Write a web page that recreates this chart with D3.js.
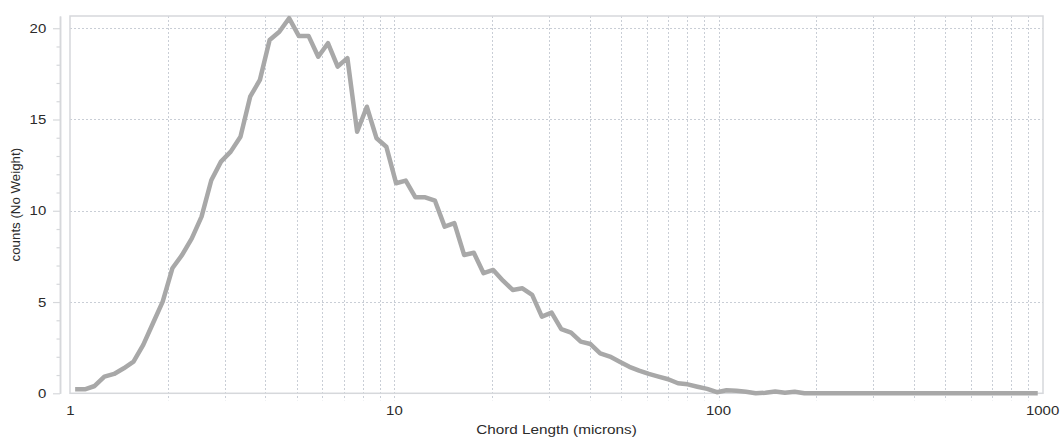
<!DOCTYPE html>
<html>
<head>
<meta charset="utf-8">
<script src="https://cdn.jsdelivr.net/npm/d3@7"></script>
<style>
  html, body { margin: 0; padding: 0; background: #ffffff; }
  svg { display: block; }
  text { font-family: "Liberation Sans", Arial, sans-serif; fill: #2b2b2b; }
</style>
</head>
<body>
<svg id="chart" width="1060" height="438"></svg>
<script>
// Chord length bin centres (microns), log-spaced from 1 to 1000
const chordLength = [
  1.035, 1.109, 1.189, 1.274, 1.365, 1.462, 1.567, 1.679, 1.799, 1.928,
  2.065, 2.213, 2.371, 2.541, 2.723, 2.917, 3.126, 3.350, 3.589, 3.846,
  4.121, 4.416, 4.732, 5.070, 5.433, 5.821, 6.237, 6.683, 7.161, 7.674,
  8.222, 8.810, 9.441, 10.12, 10.84, 11.61, 12.45, 13.34, 14.29, 15.31,
  16.41, 17.58, 18.84, 20.18, 21.63, 23.17, 24.83, 26.61, 28.51, 30.55,
  32.73, 35.08, 37.58, 40.27, 43.15, 46.24, 49.55, 53.09, 56.89, 60.95,
  65.31, 69.98, 74.99, 80.35, 86.10, 92.26, 98.86, 105.9, 113.5, 121.6,
  130.3, 139.6, 149.6, 160.3, 171.8, 184.1, 197.2, 211.4, 226.5, 242.7,
  260.0, 278.6, 298.5, 319.9, 342.8, 367.3, 393.6, 421.7, 451.9, 484.2,
  518.8, 555.9, 595.7, 638.3, 683.9, 732.8, 785.2, 841.4, 901.6, 966.1
];

// Counts per bin (no weighting)
const counts = [
  0.22, 0.22, 0.40, 0.91, 1.06, 1.37, 1.73, 2.65, 3.84, 5.02,
  6.85, 7.58, 8.49, 9.68, 11.67, 12.69, 13.24, 14.06, 16.25, 17.17,
  19.36, 19.81, 20.55, 19.58, 19.58, 18.44, 19.18, 17.90, 18.36, 14.33,
  15.70, 13.97, 13.51, 11.51, 11.65, 10.74, 10.74, 10.55, 9.13, 9.32,
  7.58, 7.70, 6.58, 6.76, 6.17, 5.66, 5.75, 5.39, 4.20, 4.42,
  3.51, 3.32, 2.83, 2.70, 2.19, 2.01, 1.73, 1.45, 1.24, 1.06,
  0.91, 0.77, 0.55, 0.49, 0.36, 0.24, 0.06, 0.17, 0.14, 0.08,
  0.00, 0.03, 0.10, 0.03, 0.09, 0.00, 0.00, 0.00, 0.00, 0.00,
  0.00, 0.00, 0.00, 0.00, 0.00, 0.00, 0.00, 0.00, 0.00, 0.00,
  0.00, 0.00, 0.00, 0.00, 0.00, 0.00, 0.00, 0.00, 0.00, 0.00
];

const yTickValues = [0, 5, 10, 15, 20];
const xTickLabels = [1, 10, 100, 1000];
const xTitle = "Chord Length (microns)";
const yTitle = "counts (No Weight)";

const plot = { left: 70, right: 1043, top: 16, bottom: 393.3 };
const textStretch = 1.15;

const svg = d3.select("#chart");

const x = d3.scaleLog().domain([1, 1000]).range([70.3, 1042.6]);
const y = d3.scaleLinear().domain([0, 20.67]).range([plot.bottom, plot.top]);

const gridColor = "#c9ced6";
const frameColor = "#d6d8db";

// Vertical dashed grid lines at every log tick, extended below the frame as tick marks
const vTicks = x.ticks().filter(v => v > 1 && v < 1000);
svg.append("g")
  .selectAll("line")
  .data(vTicks)
  .join("line")
  .attr("x1", d => Math.round(x(d)) + 0.5)
  .attr("x2", d => Math.round(x(d)) + 0.5)
  .attr("y1", plot.top)
  .attr("y2", plot.bottom + 7)
  .attr("stroke", gridColor)
  .attr("stroke-width", 1)
  .attr("stroke-dasharray", "2,2");

// Horizontal dashed grid lines
svg.append("g")
  .selectAll("line")
  .data(yTickValues.filter(v => v > 0))
  .join("line")
  .attr("x1", plot.left)
  .attr("x2", plot.right)
  .attr("y1", d => Math.round(y(d)) + 0.5)
  .attr("y2", d => Math.round(y(d)) + 0.5)
  .attr("stroke", gridColor)
  .attr("stroke-width", 1)
  .attr("stroke-dasharray", "2,2");

// Plot frame
svg.append("rect")
  .attr("x", plot.left)
  .attr("y", plot.top)
  .attr("width", plot.right - plot.left)
  .attr("height", plot.bottom - plot.top)
  .attr("fill", "none")
  .attr("stroke", frameColor)
  .attr("stroke-width", 1.5);

// Y axis: minor ticks every unit, major ticks with labels every 5
const yAxisX = 60;
const minorAxis = d3.axisLeft(y)
  .tickValues(d3.range(0, 21).filter(v => v % 5 !== 0))
  .tickSize(3.5)
  .tickSizeOuter(0)
  .tickFormat("");
const majorAxis = d3.axisLeft(y)
  .tickValues(yTickValues)
  .tickSize(7)
  .tickSizeOuter(0)
  .tickPadding(5)
  .tickFormat(d3.format("d"));

const gMinor = svg.append("g").attr("transform", `translate(${yAxisX},0)`).call(minorAxis);
const gMajor = svg.append("g").attr("transform", `translate(${yAxisX},0)`).call(majorAxis);
[gMinor, gMajor].forEach(g => {
  g.select(".domain").attr("stroke", frameColor).attr("stroke-width", 1.5);
  g.selectAll(".tick line").attr("stroke", frameColor).attr("stroke-width", 1.2);
});
gMajor.selectAll(".tick text")
  .attr("font-size", 13)
  .attr("fill", "#2b2b2b")
  .attr("font-family", "Liberation Sans, Arial, sans-serif")
  .attr("transform", `scale(${textStretch},1)`);

// X tick labels on the decades
svg.append("g")
  .selectAll("text")
  .data(xTickLabels)
  .join("text")
  .attr("transform", d => `translate(${x(d)},415) scale(${textStretch},1)`)
  .attr("text-anchor", "middle")
  .attr("font-size", 13)
  .text(d => d);

// Axis titles
svg.append("text")
  .attr("transform", `translate(${(plot.left + plot.right) / 2},434) scale(${textStretch},1)`)
  .attr("text-anchor", "middle")
  .attr("font-size", 13.3)
  .attr("fill", "#333")
  .text(xTitle);

svg.append("text")
  .attr("transform", `translate(20,${(plot.top + plot.bottom) / 2}) rotate(-90)`)
  .attr("text-anchor", "middle")
  .attr("font-size", 13.3)
  .attr("fill", "#333")
  .text(yTitle);

// Distribution curve
const line = d3.line()
  .x((d, i) => x(chordLength[i]))
  .y(d => y(d));

svg.append("path")
  .datum(counts)
  .attr("d", line)
  .attr("fill", "none")
  .attr("stroke", "#a8a8a8")
  .attr("stroke-width", 4.5)
  .attr("stroke-linejoin", "round")
  .attr("stroke-linecap", "butt");
</script>
</body>
</html>
